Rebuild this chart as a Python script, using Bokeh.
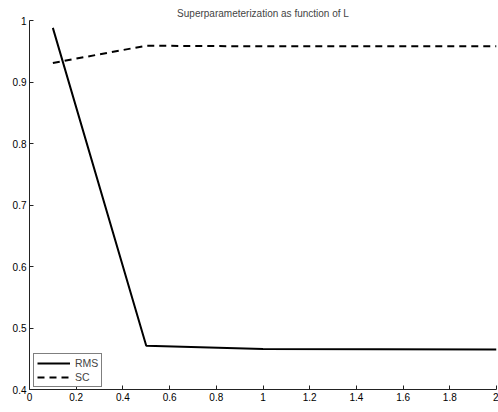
from bokeh.plotting import figure
from bokeh.models import FixedTicker, Range1d, Legend, LegendItem, Label
from bokeh.embed import file_html
from bokeh.resources import INLINE

L = [0.1, 0.5, 1.0, 2.0]
rms = [0.988, 0.471, 0.466, 0.465]
sc = [0.931, 0.959, 0.958, 0.958]
x_ticks = [0, 0.2, 0.4, 0.6, 0.8, 1, 1.2, 1.4, 1.6, 1.8, 2]
x_tick_labels = ["0", "0.2", "0.4", "0.6", "0.8", "1", "1.2", "1.4", "1.6", "1.8", "2"]
y_ticks = [0.4, 0.5, 0.6, 0.7, 0.8, 0.9, 1.0]
y_tick_labels = ["0.4", "0.5", "0.6", "0.7", "0.8", "0.9", "1"]

FONT = "Liberation Sans"

p = figure(width=498, height=412, output_backend="svg", toolbar_location=None,
           x_range=Range1d(0, 2), y_range=Range1d(0.4, 1.0),
           title="Superparameterization as function of L",
           min_border_left=29, min_border_right=2, min_border_top=20, min_border_bottom=23)
p.title.align = "center"
p.title.text_font = FONT
p.title.text_font_size = "10px"
p.title.text_font_style = "normal"
p.title.standoff = 4
p.outline_line_color = None
p.grid.visible = False

for ax in (p.xaxis[0], p.yaxis[0]):
    ax.major_tick_in = 4
    ax.major_tick_out = 0
    ax.minor_tick_line_color = None
    ax.axis_line_color = "#222222"
    ax.major_tick_line_color = "#222222"
    ax.major_label_text_font = FONT
    ax.major_label_text_font_size = "10px"
    ax.major_label_text_color = "black"
    ax.major_label_standoff = 3

p.xaxis.ticker = FixedTicker(ticks=x_ticks)
p.xaxis.major_label_overrides = {t: s for t, s in zip(x_ticks, x_tick_labels)}
p.yaxis.ticker = FixedTicker(ticks=y_ticks)
p.yaxis.major_label_overrides = {t: s for t, s in zip(y_ticks, y_tick_labels)}

xlabel = Label(x=1, y=0.4, y_offset=-13, text="L", text_align="center",
               text_baseline="top", text_font=FONT, text_font_size="9px",
               text_color="black")
p.add_layout(xlabel)

r1 = p.line(L, rms, line_color="black", line_width=2)
r2 = p.line(L, sc, line_color="black", line_width=2, line_dash="7 5")

legend = Legend(items=[LegendItem(label="RMS", renderers=[r1]),
                       LegendItem(label="SC", renderers=[r2])],
                location=(4, 2), margin=0, padding=3, spacing=2,
                glyph_width=33, glyph_height=12, label_height=12,
                label_text_font=FONT, label_text_font_size="10.5px",
                label_standoff=5,
                border_line_color="black", border_line_width=1.5,
                background_fill_alpha=1)
p.add_layout(legend, "center")

open("out.html", "w").write(file_html(p, INLINE))
